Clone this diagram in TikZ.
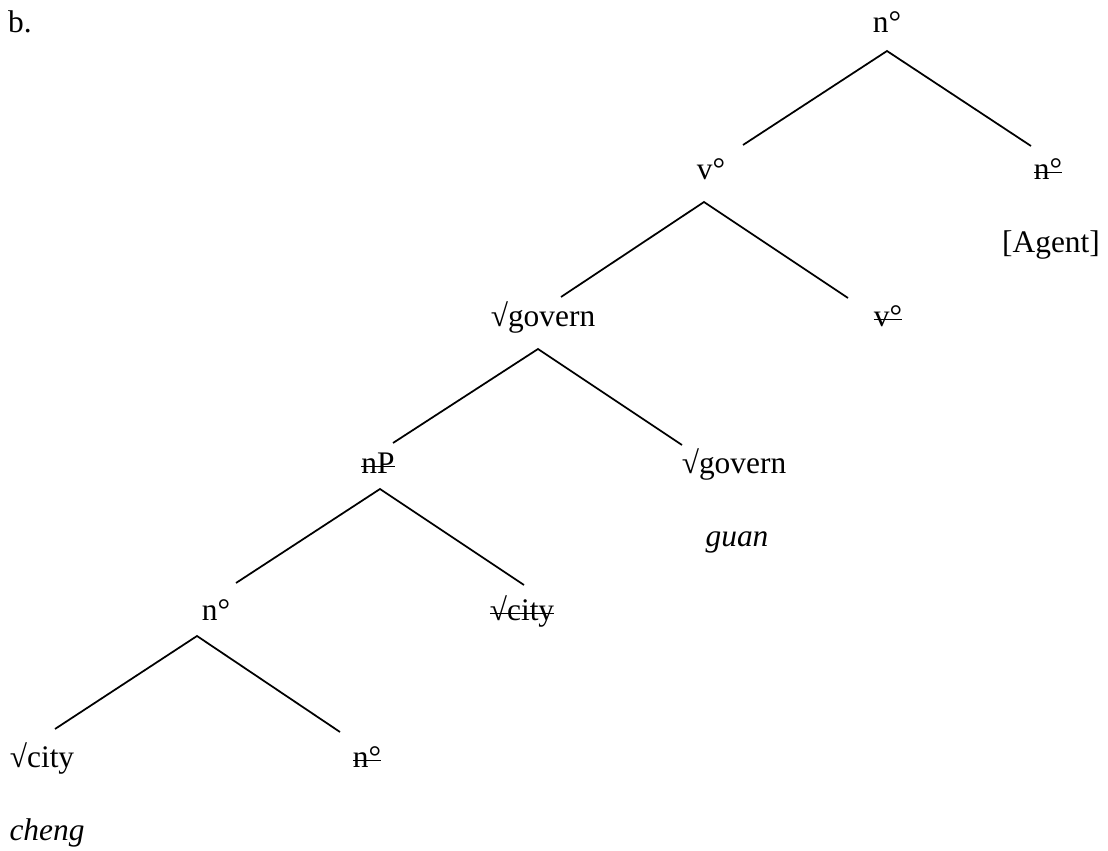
\documentclass[tikz,border=0pt]{standalone}
\usepackage{fontspec}
\setmainfont{Liberation Serif}
\usepackage{tikz}

% struck-through category label
\newcommand\strikeout[1]{\setbox0\hbox{#1}\rlap{\rule[0.22em]{\wd0}{0.045em}}\box0}

\begin{document}
\begin{tikzpicture}[
  x=0.4pt, y=-0.4pt,
  font=\fontsize{12.56}{15}\selectfont,
  cat/.style={anchor=base, inner sep=0pt},
  gloss/.style={cat, font=\fontsize{12.56}{15}\selectfont\itshape},
  branch/.style={line width=0.7pt, draw=black}
]
\useasboundingbox (0,0) rectangle (1108,851);

\node[cat] (lbl) at (20,33) {b.};

% labels, one row per level
\node[cat] (nTop) at (887,33) {n°};
\node[cat] (vHead) at (711,180) {v°};
\node[cat] (nCopy) at (1048,180) {\strikeout{n°}};
\node[cat] (agent) at (1051,253) {[Agent]};
\node[cat] (govA) at (543,327) {√govern};
\node[cat] (vCopy) at (888,327) {\strikeout{v°}};
\node[cat] (nPhr) at (378,474) {\strikeout{nP}};
\node[cat] (govB) at (734,474) {√govern};
\node[gloss] (guan) at (737,547) {guan};
\node[cat] (nMid) at (216,621) {n°};
\node[cat] (cityCopy) at (522,621) {\strikeout{√city}};
\node[cat] (city) at (42,768) {√city};
\node[cat] (nLow) at (367,768) {\strikeout{n°}};
\node[gloss] (cheng) at (47,841) {cheng};

% branch points
\coordinate (nTop-top) at (887,51);
\coordinate (nTop-l) at (743,145);
\coordinate (nTop-r) at (1031,146);
\coordinate (vHead-top) at (704,202);
\coordinate (vHead-l) at (561,297);
\coordinate (vHead-r) at (848,298);
\coordinate (govA-top) at (538,349);
\coordinate (govA-l) at (393,443);
\coordinate (govA-r) at (682,445);
\coordinate (nPhr-top) at (380,489);
\coordinate (nPhr-l) at (236,583);
\coordinate (nPhr-r) at (524,585);
\coordinate (nMid-top) at (197,636);
\coordinate (nMid-l) at (55,729);
\coordinate (nMid-r) at (340,732);

\foreach \p in {nTop,vHead,govA,nPhr,nMid}
  \draw[branch] (\p-l) -- (\p-top) -- (\p-r);
\end{tikzpicture}
\end{document}
